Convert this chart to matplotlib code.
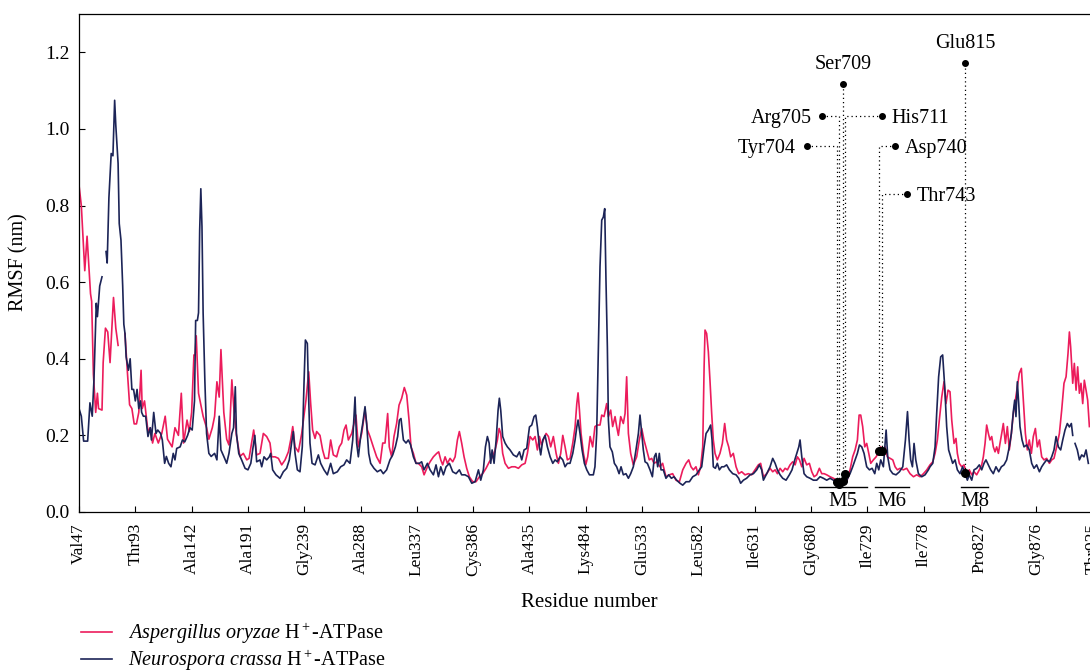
import numpy as np
import matplotlib
matplotlib.use('Agg')
import matplotlib.pyplot as plt
from matplotlib.lines import Line2D

plt.rcParams['font.family'] = ['Liberation Serif', 'DejaVu Serif']
plt.rcParams['mathtext.fontset'] = 'custom'
plt.rcParams['mathtext.rm'] = 'Liberation Serif'
plt.rcParams['mathtext.it'] = 'Liberation Serif:italic'

# --- data ---
# Aspergillus oryzae H+-ATPase (pink)
pink_res = [44, 46, 49, 51, 54, 55, 56.5, 58.5, 60, 61, 64, 65, 67, 69, 71, 74, 76, 78, 81,
            84, 86, 88, 90, 92, 94, 96, 98, 99, 101, 104, 106, 108, 110, 113, 116, 119, 121,
            123, 125, 127.5, 130.5, 133, 135, 138, 140, 142, 144, 145, 146, 148, 150, 152, 155,
            157, 160, 162, 164, 166, 167.5, 170, 172.5, 174.5, 177, 179, 181, 184, 187, 190, 192,
            196, 198.6, 201.5, 204.4, 207.3, 210.2, 211.7, 214.6, 217.5, 220.4, 223.3, 226.2,
            228.2, 230, 232, 234.9, 237.8, 239.8, 241.5, 243.9, 245.6, 247.3, 249.4, 250.8, 253.7,
            256, 258, 261, 263, 265.3, 268.2, 270.5, 272.6, 274.6, 276.4, 278.4, 281.3, 283.3,
            285, 287.1, 290, 292.9, 295, 297.2, 300.1, 303, 306, 308.3, 310.3, 312.6, 314, 316.1,
            318.1, 320.4, 322.5, 324.8, 327.1, 329.2, 331.2, 332.9, 335, 337.3, 339.3, 342.2,
            344.3, 347.2, 349.5, 352.4, 355.3, 357, 358.8, 360.5, 362.6, 364.6, 366.9, 369.2,
            371.3, 373.3, 375, 377, 379.1, 381.4, 383.7, 386.6, 389.5, 392.4, 395.3, 398.2, 401.1,
            404, 406.1, 408.1, 409.6, 411, 412.7, 414.8, 417.7, 420.6, 423.5, 426.4, 429.3, 432.2,
            434.2, 436.5, 438.9, 440.9, 442.9, 444.7, 446.4, 448.1, 450.5, 452.5, 454.5, 456.8,
            459.2, 461.2, 463.2, 465, 467, 469, 471.3, 473.7, 475.7, 477.2, 478.3, 479.5, 480.9,
            483, 485, 486.7, 488.8, 491, 493, 495.1, 497.4, 498.9, 500.9, 503.2, 504.7, 506.7,
            508.4, 510.5, 511.9, 513.4, 515.4, 517.7, 519.2, 520.6, 522.1, 524.1, 526.4, 529.3,
            531.6, 533.7, 535.7, 538, 540.3, 542.4, 544.4, 546.7, 549.6, 551.9, 554.8, 557.7,
            560.6, 563.5, 566.5, 569.4, 572.3, 574.6, 576.6, 578.6, 580.9, 583, 585, 586.8, 588,
            588.8, 590.2, 591.7, 593.1, 594.6, 596, 597.5, 599.5, 601.8, 603.9, 605.9, 607.6,
            609.4, 611.1, 613.4, 615.8, 618.1, 620.7, 623.6, 626.5, 629.4, 632.3, 635.2, 637.2,
            639.6, 642.5, 645.4, 647.7, 649.8, 651.8, 654.1, 656.4, 658.5, 660.5, 662.8, 665.1,
            667.2, 669.2, 671, 673, 675, 677.3, 679.6, 681.7, 683.7, 686, 688.3, 690.4, 692.4,
            694.7, 697.6, 700.5, 703.4, 706.3, 709.2, 712.1, 715, 717.3, 719.4, 721.4, 722.9,
            724.3, 726, 727.8, 729.5, 731.3, 733, 735.3, 737.7, 740, 741.7, 743.5, 745.5, 747.5,
            749.8, 752.2, 754.2, 756.2, 758.5, 761.4, 764.3, 767.2, 770.2, 773, 776, 778.9, 781.8,
            784.6, 787, 789, 791, 792.7, 794.8, 796.8, 798.5, 800.3, 802, 803.5, 805.5, 807.2,
            808.4, 810.1, 812.2, 814.2, 816.5, 818.8, 820.9, 822.9, 825.2, 827.5, 829.6, 831,
            832.5, 833.9, 835.4, 836.8, 838.3, 839.7, 841.2, 842.6, 844.1, 845.5, 847, 848.4,
            850.2, 851.9, 853.6, 855.4, 857.1, 858.9, 860.6, 862.3, 864.1, 865.8, 867.6, 869.3,
            871, 872.8, 874.5, 876.3, 878, 879.8, 881.8, 883.8, 886.1, 888.5, 890.5, 892.5, 894.8,
            897.2, 899.2, 901.2, 903, 904.7, 905.9, 907, 908.8, 910.2, 911.7, 913.1, 914.6, 916,
            917.5, 918.9, 920.4, 921.8, 923.3]
pink_rmsf = [.853, .80, .63, .72, .57, .55, .36, .26, .31, .27, .266, .39, .48, .47, .39, .56, .48, .435, np.nan,
             .466, .37, .28, .27, .23, .23, .26, .37, .27, .29, .21, .22, .18, .205, .18, .205, .25, .19,
             .18, .17, .22, .20, .31, .18, .24, .21, .26, .41, .41, .46, .31, .28, .25, .22,
             .19, .22, .25, .34, .30, .424, .26, .19, .175, .345, .26, .20, .145, .153, .136, .14,
             .214, .149, .153, .205, .197, .18, .144, .144, .14, .123, .136, .157,
             .188, .223, .17, .157, .205, .253, .292, .366, .283, .214, .192, .21, .20,
             .162, .14, .14, .188, .149, .144, .17, .18, .214, .227, .188, .205, .231,
             .253, .17, .205, .266, .214, .197, .17, .144, .127, .18, .18, .257, .17, .144,
             .197, .231, .279, .297, .325, .305, .24, .17, .153, .127, .127, .118,
             .097, .118, .131, .144, .153, .157, .136, .123, .144, .127, .14, .131,
             .144, .188, .21, .18, .144, .114, .092, .079, .079, .092, .10, .114, .131,
             .144, .162, .188, .218, .205, .153, .127, .114, .118, .118, .114, .123, .127,
             .153, .197, .188, .197, .162, .197, .175, .188, .205, .197, .17, .197,
             .153, .127, .153, .20, .17, .136, .14, .18, .222, .283, .311, .266, .205,
             .153, .123, .144, .197, .17, .223, .227, .227, .253, .249, .283, .249, .266,
             .223, .249, .223, .20, .249, .231, .257, .353, .205, .153, .123, .144,
             .188, .218, .188, .162, .136, .14, .127, .131, .118, .127, .092, .097,
             .10, .083, .079, .11, .127, .136, .118, .11, .118, .097, .118, .17, .379,
             .475, .466, .418, .344, .257, .188, .153, .136, .153, .179, .231, .188,
             .17, .144, .153, .118, .10, .105, .097, .10, .097, .11, .123, .127,
             .092, .10, .114, .105, .11, .10, .114, .105, .114, .11, .123, .131,
             .123, .144, .136, .118, .14, .123, .127, .105, .092, .097, .114, .10, .10,
             .097, .092, .088, .083, .079, .075, .079, .11, .144, .162, .188, .253,
             .253, .223, .17, .179, .153, .127, .136, .144, .157, .17, .157, .17, .144,
             .14, .136, .118, .11, .114, .11, .114, .10, .092, .097, .092, .10, .11,
             .123, .131, .153, .188, .24, .30, .34, .283, .318, .314, .24, .179, .192,
             .153, .127, .118, .123, .10, .11, .097, .105, .097, .11, .123, .144,
             .179, .227, .205, .188, .197, .17, .157, .17, .153, .179, .205, .231,
             .179, .223, .162, .205, .257, .292, .327, .362, .375, .292, .205, .162,
             .188, .153, .197, .218, .17, .188, .144, .136, .14, .127, .136, .14, .17,
             .205, .266, .336, .353, .414, .47, .431, .336, .388, .318, .379, .31, .336,
             .283, .344, .318, .292, .223]

# Neurospora crassa H+-ATPase (navy)
navy_res = [44, 46, 48, 50, 51.5, 53.5, 55.5, 57, 59, 60, 62, 64, 66, 67.5, 68.5, 70, 72, 73.5,
            75, 76, 78, 79, 80.5, 82, 83, 84, 85, 87, 88.5, 90, 91.5, 93, 94.5, 96, 97.5, 98.5,
            100, 102, 104, 106, 107, 109, 111, 112.5, 115, 116.5, 118.5, 120, 122, 124, 126,
            127.5, 129, 132, 134, 136, 138.5, 140.5, 142.5, 144.5, 145.5, 147, 148, 149, 150, 151,
            152, 153.5, 155, 157, 159, 162, 164, 166, 167.5, 170, 172.5, 174.5, 177, 178.5, 180,
            181, 183, 185.5, 188.5, 191, 193.5, 195.5, 197, 198.6, 201.5, 203, 205, 207.3, 209.6,
            210.8, 212.5, 215.4, 218.9, 221.8, 224.7, 227, 229, 230.5, 232, 234, 236.3, 238.3,
            239.8, 241, 242.7, 243.9, 245, 246.8, 249.4, 252.3, 254.3, 257.2, 260.1, 263, 265.3,
            268.8, 271.7, 274.6, 276.9, 279.8, 282.2, 284.2, 285.6, 287.1, 289.1, 290.9, 292.9,
            294.3, 296.1, 297.8, 300.7, 303.6, 306.5, 308.8, 311.7, 314.6, 317, 319.3, 321.3,
            322.8, 324.2, 326.3, 328.6, 330.6, 332.6, 335, 337.3, 340.2, 342.2, 344.2, 347.2,
            349.5, 352.4, 354.7, 356.8, 358.8, 361.1, 363.4, 366.3, 369.2, 372.1, 375, 377, 379.9,
            382.9, 385.8, 388.7, 391.6, 393.6, 395.9, 397.7, 399.4, 400.9, 402.3, 403.5, 405.2,
            407, 408.7, 409.8, 411, 412.7, 414.8, 416.8, 419.1, 422, 424.9, 427.3, 429.3, 431.3,
            433.6, 436, 438, 440, 441.5, 442.9, 444.7, 445.8, 447.6, 449.6, 451.6, 454, 456.3,
            458.3, 460.3, 462.6, 465, 467, 469, 471.3, 473.7, 475.7, 477.2, 478.3, 480, 481.8,
            483.8, 485.9, 488.2, 491.6, 493, 494.5, 496, 497.4, 498.9, 500.3, 501.5, 502.6, 503.8,
            504.7, 506.1, 508.1, 509.9, 511.9, 514, 515.7, 517.7, 520, 522.1, 524.1, 526.4, 528.7,
            530.8, 532.2, 533.7, 535.1, 536.6, 538.6, 540.9, 543, 544.7, 546.1, 547.6, 549, 550.5,
            552.5, 554.8, 557.2, 559.5, 561.8, 564.1, 567, 569.4, 572.3, 575.2, 578.1, 581, 583.9,
            585.9, 588, 589.7, 591.7, 593.7, 594.9, 596, 597.8, 599.5, 601.3, 603.3, 605.3, 607.6,
            610, 612.9, 615.8, 618.1, 619.8, 622.2, 625, 628, 630.9, 633.8, 636.1, 638.1, 639.6,
            642.5, 645.4, 647.7, 649.8, 651.8, 654.1, 656.4, 659.3, 662.2, 664.5, 666.9, 668.6,
            670.4, 671.5, 673, 675, 677.3, 680.2, 683.1, 686, 688.9, 691.8, 694.7, 697.6, 700.5,
            703.4, 706.3, 709.2, 712.1, 715, 717.3, 719.4, 721.4, 723.2, 725.2, 727.2, 729.5,
            731.9, 734.2, 736.5, 738.2, 740, 741.7, 744, 746.4, 747.8, 749.8, 752.2, 755, 758,
            760.9, 763.2, 765, 766.4, 767.8, 769.3, 770.7, 772.2, 774.5, 777.4, 780.3, 783.2,
            784.6, 787, 789, 790.4, 792.1, 793.9, 795.6, 797.4, 799.1, 800.8, 802.6, 804.3, 806.4,
            808.4, 810.7, 813, 815.1, 817.1, 818.8, 820.9, 822.9, 825.2, 827.5, 829.6, 831.6,
            833.3, 835.4, 837.4, 839.7, 842, 844.4, 846.7, 849, 851.3, 853.6, 855.4, 857.1, 858.3,
            859.4, 860.6, 861.8, 862.9, 864.7, 866.4, 868.7, 871, 873.1, 875.1, 877.4, 879.8,
            881.8, 883.8, 886.1, 888.5, 890.5, 892.5, 894.3, 896.3, 898.3, 900.1, 902.1, 904.1,
            905.9, 907.6, 908.8, 909.8, 910.8, 912.8, 914.6, 916.6, 918.6, 920.4, 922.4]
navy_rmsf = [.27, .25, .185, .185, .185, .285, .25, .345, .545, .51, .59, .614, np.nan, .68, .65, .82, .936, .93,
             1.075, 1.01, .91, .753, .71, .59, .49, .466, .405, .37, .40, .32, .32, .29, .32, .27, .29, .26,
             .25, .25, .197, .22, .188, .26, .205, .214, .205, .188, .127, .145, .127, .118, .153,
             .136, .166, .17, .188, .183, .20, .22, .214, .29, .50, .50, .52, .735, .844, .745,
             .52, .344, .205, .153, .145, .153, .136, .25, .162, .145, .127, .153, .205, .22, .327,
             .205, .153, .136, .114, .11, .127, .17, .20, .131, .136, .118, .144, .136, .144,
             .153, .11, .097, .088, .105, .114, .136, .18, .21, .153, .11, .105, .17,
             .336, .449, .44, .292, .18, .127, .123, .149, .127, .11, .097, .127, .10,
             .105, .118, .123, .136, .127, .188, .30, .18, .144, .197, .231, .275,
             .231, .153, .127, .114, .105, .11, .10, .11, .136, .149, .17, .197,
             .24, .244, .188, .18, .188, .175, .144, .127, .127, .131, .11, .127,
             .11, .097, .123, .092, .118, .097, .118, .127, .105, .10, .11, .097, .097,
             .092, .075, .079, .11, .083, .11, .17, .197, .18, .127, .162, .127,
             .188, .266, .297, .266, .197, .18, .17, .162, .149, .144, .157, .136, .162,
             .166, .222, .227, .249, .253, .222, .17, .149, .188, .20, .17, .144, .127,
             .136, .131, .144, .136, .118, .127, .127, .153, .188, .222, .24, .205, .162,
             .127, .11, .097, .097, .118, .205, .431, .64, .762, .77, .792, .605, .431,
             .24, .17, .157, .127, .118, .10, .118, .097, .10, .088, .10, .118, .162,
             .205, .253, .205, .162, .131, .127, .11, .092, .144, .153, .118, .153, .11,
             .11, .088, .097, .088, .092, .083, .075, .07, .079, .079, .092, .097, .11,
             .118, .17, .205, .214, .227, .188, .118, .114, .127, .11, .118, .118, .123,
             .11, .10, .097, .088, .075, .083, .088, .097, .10, .11, .123, .11, .083,
             .10, .118, .14, .127, .11, .097, .088, .083, .097, .11, .136, .153,
             .17, .188, .144, .10, .092, .088, .083, .083, .092, .088, .083, .088, .083,
             .079, .079, .075, .083, .10, .118, .136, .153, .175, .17, .153, .118,
             .11, .114, .10, .127, .11, .136, .118, .214, .144, .11, .10, .097, .105,
             .118, .188, .262, .188, .136, .118, .179, .136, .10, .092, .097, .11,
             .118, .127, .17, .257, .353, .405, .41, .327, .223, .162, .144, .127, .136,
             .11, .10, .118, .10, .083, .097, .083, .11, .114, .123, .11, .127,
             .136, .123, .11, .10, .118, .105, .118, .123, .136, .17, .205, .262, .292,
             .249, .34, .283, .223, .188, .17, .175, .162, .127, .114, .123, .105,
             .118, .127, .136, .131, .144, .162, .197, .17, .162, .188, .214, .231,
             .222, .231, .20, np.nan, .179, .162, .136, .149, .144, .162, .127]

tick_pos = [44, 93, 142, 191, 240, 289, 338, 387, 436, 485, 534, 583, 632, 681, 730, 779, 828, 877, 926]
tick_labels = ['Val47', 'Thr93', 'Ala142', 'Ala191', 'Gly239', 'Ala288', 'Leu337', 'Cys386',
               'Ala435', 'Lys484', 'Glu533', 'Leu582', 'Ile631', 'Gly680', 'Ile729', 'Ile778',
               'Pro827', 'Gly876', 'Thr925']

# annotated residues: point on curve and label anchor
ann_names = ['Tyr704', 'Arg705', 'Ser709', 'His711', 'Asp740', 'Thr743', 'Glu815']
ann_res = [704, 705, 709, 711, 740, 743, 815]
ann_rmsf = [0.077, 0.074, 0.081, 0.099, 0.159, 0.160, 0.103]
ann_label_x = [677.6, 691, 709, 742.6, 754.2, 764.4, 815]
ann_label_y = [0.956, 1.033, 1.117, 1.033, 0.956, 0.829, 1.173]

# transmembrane segments
seg_names = ['M5', 'M6', 'M8']
seg_start = [688, 737, 812]
seg_end = [730, 766, 835]

pink = '#ec1c5c'
navy = '#1c2457'

fig = plt.figure(figsize=(10.9, 6.71), dpi=100)
ax = fig.add_axes([0.0725, 0.237, 0.934, 0.742])

ax.plot(pink_res, pink_rmsf, color=pink, lw=1.2)
ax.plot(navy_res, navy_rmsf, color=navy, lw=1.2)

ax.set_xlim(44, 930)
ax.set_ylim(0, 1.3)
ax.set_yticks(np.arange(0, 1.21, 0.2))
ax.set_yticklabels(['%.1f' % v for v in np.arange(0, 1.21, 0.2)])
ax.set_xticks(tick_pos)
ax.set_xticklabels(tick_labels, rotation=90)
ax.tick_params(direction='in', length=4, width=0.8)
ax.tick_params(axis='x', pad=8, labelsize=12.5)
ax.tick_params(axis='y', pad=7, labelsize=14)
for s in ax.spines.values():
    s.set_linewidth(0.9)

ax.set_ylabel('RMSF (nm)', fontsize=14.5)
ax.yaxis.set_label_coords(-0.05, 0.502)
ax.set_xlabel('Residue number', fontsize=15)
ax.xaxis.set_label_coords(0.501, -0.163)

dot = (0, (1, 2.4))
for i in range(len(ann_names)):
    x, y = ann_res[i], ann_rmsf[i]
    lx, ly = ann_label_x[i], ann_label_y[i]
    if lx == x:
        ax.plot([x, x], [y, ly], color='k', lw=0.9, ls=dot)
        off, ha, va = (0, 7), 'center', 'bottom'
    else:
        ax.plot([lx, x, x], [ly, ly, y], color='k', lw=0.9, ls=dot)
        if lx < x:
            off, ha, va = (-8, 0), 'right', 'center_baseline'
        else:
            off, ha, va = (7, 0), 'left', 'center_baseline'
    ax.plot(x, y, 'o', color='k', ms=5.5, zorder=5)
    ax.plot(lx, ly, 'o', color='k', ms=4, zorder=5)
    ax.annotate(ann_names[i], (lx, ly), xytext=off, textcoords='offset points',
                ha=ha, va=va, fontsize=14.5)

for i in range(len(seg_names)):
    ax.plot([seg_start[i], seg_end[i]], [0.064, 0.064], color='k', lw=1)
    ax.text((seg_start[i] + seg_end[i]) / 2, 0.027, seg_names[i], ha='center', va='center', fontsize=15)

handles = [Line2D([], [], color=pink, lw=1.2), Line2D([], [], color=navy, lw=1.2)]
labels = [r'$\mathit{Aspergillus\ oryzae}$ H$^+$-ATPase', r'$\mathit{Neurospora\ crassa}$ H$^+$-ATPase']
fig.legend(handles, labels, loc='upper left', bbox_to_anchor=(0.0745, 0.074), frameon=False,
           fontsize=14.5, handlelength=1.55, handletextpad=0.75, labelspacing=0.05, borderpad=0,
           borderaxespad=0)

fig.savefig('out.png', dpi=100)
